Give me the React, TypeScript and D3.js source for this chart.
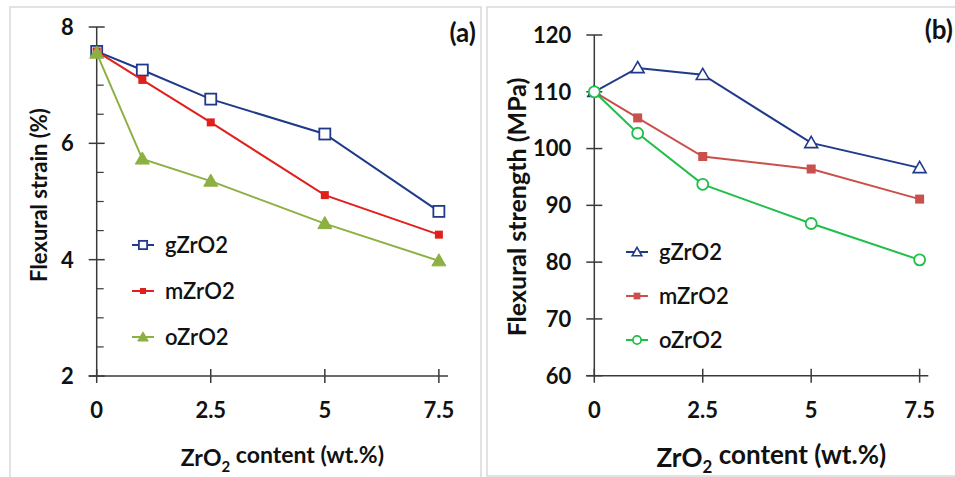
import React from "react";
import * as d3 from "d3";

const contents = [0, 1, 2.5, 5, 7.5];
const xTicks = [0, 2.5, 5, 7.5];
const seriesNames = ["gZrO2", "mZrO2", "oZrO2"];

// panel (a) flexural strain, %
const strainG = [7.58, 7.26, 6.76, 6.16, 4.83];
const strainM = [7.58, 7.09, 6.36, 5.11, 4.43];
const strainO = [7.55, 5.73, 5.35, 4.62, 3.98];
const strainTicks = [2, 4, 6, 8];

// panel (b) flexural strength, MPa
const strengthG = [110, 114.2, 113, 101, 96.6];
const strengthM = [110, 105.4, 98.6, 96.4, 91.1];
const strengthO = [110, 102.7, 93.7, 86.8, 80.4];
const strengthTicks = [60, 70, 80, 90, 100, 110, 120];

const FONT = "Lato, 'Open Sans', sans-serif";

const Marker = ({ kind, x, y, color, size }) => {
  const h = size / 2;
  if (kind === "square")
    return <rect x={x - h} y={y - h} width={size} height={size} fill="#fff" stroke={color} strokeWidth={1.8} />;
  if (kind === "filledSquare")
    return <rect x={x - h} y={y - h} width={size} height={size} fill={color} />;
  if (kind === "circle")
    return <circle cx={x} cy={y} r={h} fill="#fff" stroke={color} strokeWidth={1.8} />;
  const tri = d3.symbol(d3.symbolTriangle, size * size * 0.5)();
  const filled = kind === "filledTriangle";
  return (
    <path
      d={tri}
      transform={`translate(${x},${y + 1})`}
      fill={filled ? color : "#fff"}
      stroke={color}
      strokeWidth={filled ? 1 : 1.6}
    />
  );
};

const Panel = ({ frame, plot, yDomain, yTicks, minor, series, yTitle, tag, xTitleSize, legend }) => {
  const x = d3.scaleLinear().domain([0, 7.7]).range([plot.left, plot.right]);
  const y = d3.scaleLinear().domain(yDomain).range([plot.bottom, plot.top]);
  const line = d3
    .line<number>()
    .x((_, i) => x(contents[i]))
    .y(d => y(d));

  return (
    <g fontFamily={FONT}>
      <rect x={frame.x} y={frame.y} width={frame.w} height={frame.h} fill="#fff" stroke="#d9d9d9" strokeWidth={1.5} />
      {/* axes */}
      <line x1={x(0)} x2={x(0)} y1={y(yDomain[1])} y2={y(yDomain[0])} stroke="#3a3a3a" strokeWidth={1.5} />
      <line x1={x(0) - 8} x2={x(7.7)} y1={y(yDomain[0])} y2={y(yDomain[0])} stroke="#3a3a3a" strokeWidth={1.5} />
      {minor.map(t => (
        <line key={"m" + t} x1={x(0)} x2={x(0) + 7} y1={y(t)} y2={y(t)} stroke="#3a3a3a" strokeWidth={1.2} />
      ))}
      {yTicks.map(t => (
        <g key={"y" + t}>
          <line x1={x(0) - 8} x2={x(0) + 8} y1={y(t)} y2={y(t)} stroke="#3a3a3a" strokeWidth={1.5} />
          <text x={x(0) - 23} y={y(t)} dy="0.36em" textAnchor="end" fontSize={22} fontWeight="bold" fill="#111">
            {t}
          </text>
        </g>
      ))}
      {xTicks.map(t => (
        <g key={"x" + t}>
          <line x1={x(t)} x2={x(t)} y1={y(yDomain[0]) - 7} y2={y(yDomain[0]) + 7} stroke="#3a3a3a" strokeWidth={1.5} />
          <text x={x(t)} y={y(yDomain[0]) + 34} dy="0.36em" textAnchor="middle" fontSize={22} fontWeight="bold" fill="#111">
            {t}
          </text>
        </g>
      ))}
      {/* series */}
      {series.map(s => (
        <g key={s.name}>
          <path d={line(s.values)} fill="none" stroke={s.color} strokeWidth={2} />
          {s.values.map((v, i) => (
            <Marker key={i} kind={s.mark} x={x(contents[i])} y={y(v)} color={s.color} size={s.size} />
          ))}
        </g>
      ))}
      {/* legend */}
      {series.map((s, i) => {
        const ly = legend.y + i * legend.step;
        return (
          <g key={"l" + s.name}>
            <line x1={legend.x} x2={legend.x + 22} y1={ly} y2={ly} stroke={s.color} strokeWidth={2} />
            <Marker kind={s.mark} x={legend.x + 11} y={ly} color={s.color} size={s.size * 0.75} />
            <text x={legend.x + 33} y={ly} dy="0.36em" fontSize={22} fontWeight={600} fill="#111">
              {s.name}
            </text>
          </g>
        );
      })}
      {/* titles */}
      <text
        transform={`translate(${yTitle.x},${yTitle.y}) rotate(-90)`}
        textAnchor="middle"
        dy="0.36em"
        fontSize={yTitle.size}
        fontWeight="bold"
        fill="#111"
      >
        {yTitle.text}
      </text>
      <text x={(plot.left + plot.right) / 2 + 10} y={458} dy="0.36em" textAnchor="middle" fontSize={xTitleSize} fontWeight="bold" fill="#111">
        ZrO<tspan fontSize={xTitleSize * 0.65} dy="0.35em">2</tspan>
        <tspan dy="-0.35em"> content (wt.%)</tspan>
      </text>
      <text x={tag.x} y={tag.y} dy="0.36em" textAnchor="end" fontSize={26} fontWeight="bold" fill="#111">
        {tag.text}
      </text>
    </g>
  );
};

const App = () => {
  const strainSeries = [
    { name: seriesNames[0], values: strainG, color: "#1f3a8a", mark: "square", size: 11 },
    { name: seriesNames[1], values: strainM, color: "#e0201b", mark: "filledSquare", size: 8 },
    { name: seriesNames[2], values: strainO, color: "#8db043", mark: "filledTriangle", size: 13 },
  ];
  const strengthSeries = [
    { name: seriesNames[0], values: strengthG, color: "#1f3a8a", mark: "triangle", size: 12 },
    { name: seriesNames[1], values: strengthM, color: "#c9504b", mark: "filledSquare", size: 9 },
    { name: seriesNames[2], values: strengthO, color: "#1fbf4a", mark: "circle", size: 11 },
  ];
  const strainMinor = d3.range(2, 8.01, 0.5).filter(v => v % 2 !== 0);

  return (
    <svg width={955} height={477} style={{ position: "absolute", left: 0, top: 0, background: "#fff" }}>
      <Panel
        frame={{ x: 10, y: 7, w: 471, h: 475 }}
        plot={{ left: 96.7, right: 448, top: 27, bottom: 376 }}
        yDomain={[2, 8]}
        yTicks={strainTicks}
        minor={strainMinor}
        series={strainSeries}
        yTitle={{ x: 39, y: 195, text: "Flexural strain (%)", size: 22 }}
        tag={{ x: 476, y: 33, text: "(a)" }}
        xTitleSize={23}
        legend={{ x: 132, y: 245, step: 46 }}
      />
      <Panel
        frame={{ x: 487, y: 7, w: 475, h: 469 }}
        plot={{ left: 594.3, right: 928.3, top: 35, bottom: 375.7 }}
        yDomain={[60, 120]}
        yTicks={strengthTicks}
        minor={[]}
        series={strengthSeries}
        yTitle={{ x: 517, y: 207, text: "Flexural strength (MPa)", size: 25 }}
        tag={{ x: 953, y: 30, text: "(b)" }}
        xTitleSize={26}
        legend={{ x: 626, y: 252, step: 44 }}
      />
    </svg>
  );
};

export default App;
